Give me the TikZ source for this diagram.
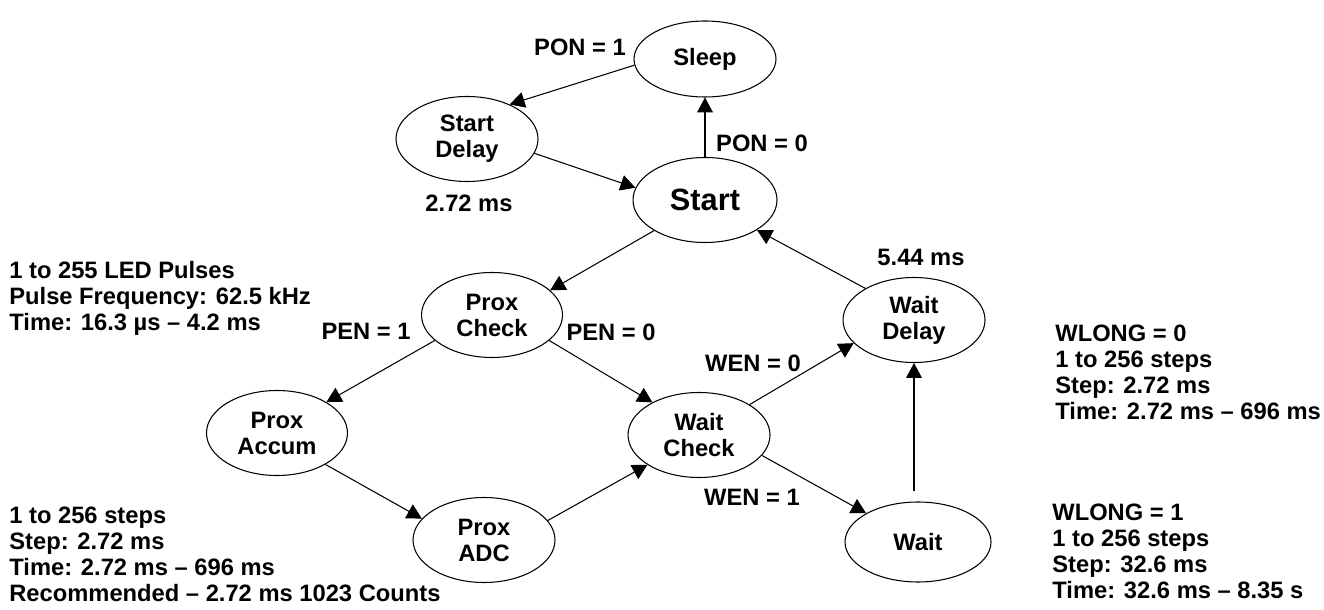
\documentclass[tikz,border=0pt]{standalone}
\usepackage{fontspec}
\setmainfont{Liberation Sans}
\usetikzlibrary{shapes.geometric,arrows.meta}

\begin{document}
\begin{tikzpicture}[
	every node/.style={font=\fontsize{13.5}{14.8}\selectfont\bfseries},
	state/.style={ellipse, draw=black, line width=0.6pt, inner sep=0pt, align=center, minimum width=2.84cm, minimum height=1.70cm},
	info/.style={anchor=west, align=left, inner sep=0pt},
	cond/.style={inner sep=0pt}
]

\useasboundingbox (0,0) rectangle (26.48,12.18);

%% states
\node at (14.10,11.00) [state, minimum height=1.52cm] (sleep) {Sleep};
\node at (9.34,9.40) [state] (sdelay) {Start\\Delay};
\node at (14.10,8.18) [state, minimum width=2.88cm, font=\fontsize{17.5}{20}\selectfont\bfseries] (start) {Start};

\node at (9.84,5.88) [state, minimum width=2.82cm] (pcheck) {Prox\\Check};
\node at (5.54,3.52) [state, minimum width=2.82cm] (paccum) {Prox\\Accum};
\node at (9.68,1.38) [state] (padc) {Prox\\ADC};

\node at (13.98,3.48) [state] (wcheck) {Wait\\Check};
\node at (18.28,5.78) [state] (wdelay) {Wait\\Delay};
\node at (18.36,1.34) [state, minimum width=2.92cm, minimum height=1.60cm] (wait) {Wait};

%% conditions and times
\node at (11.60,11.24) [cond] (pon1) {PON = 1};
\node at (15.24,9.32) [cond] (pon0) {PON = 0};
\node at (9.38,8.12) [cond] (tsdelay) {2.72 ms};
\node at (7.32,5.56) [cond] (pen1) {PEN = 1};
\node at (12.22,5.54) [cond] (pen0) {PEN = 0};
\node at (15.06,4.92) [cond] (wen0) {WEN = 0};
\node at (15.04,2.24) [cond] (wen1) {WEN = 1};
\node at (18.42,7.04) [cond] (twdelay) {5.44 ms};

%% notes
\node at (0.18,6.22) [info] (ledinfo) {1 to 255 LED Pulses\\Pulse Frequency: 62.5 kHz\\Time: 16.3 µs \textendash{} 4.2 ms};
\node at (0.18,1.10) [info] (adcinfo) {1 to 256 steps\\Step: 2.72 ms\\Time: 2.72 ms \textendash{} 696 ms\\Recommended \textendash{} 2.72 ms 1023 Counts};
\node at (21.10,4.74) [info] (wlong0) {WLONG = 0\\1 to 256 steps\\Step: 2.72 ms\\Time: 2.72 ms \textendash{} 696 ms};
\node at (21.04,1.16) [info] (wlong1) {WLONG = 1\\1 to 256 steps\\Step: 32.6 ms\\Time: 32.6 ms \textendash{} 8.35 s};

\begin{scope}[>={Triangle[length=8.5pt,width=9pt]}, line width=0.6pt]
	\draw [->] (sleep.185) -- (sdelay.39);
	\draw [->] (sdelay.-12) -- (start.170);
	\draw [->] (start.north) -- (sleep.south);
	\draw [->] (start.211) -- (pcheck.23);
	\draw [->] (wdelay.147) -- (start.330);
	\draw [->] (pcheck.204) -- (paccum.32);
	\draw [->] (pcheck.-24) -- (wcheck.145);
	\draw [->] (paccum.-33) -- (padc.161);
	\draw [->] (padc.17) -- (wcheck.210);
	\draw [->] (wcheck.31) -- (wdelay.201);
	\draw [->] (wcheck.-18) -- (wait.151);
	\draw [->, shorten <=6pt] (wait.north -| wdelay.south) -- (wdelay.south);
\end{scope}

\end{tikzpicture}
\end{document}
